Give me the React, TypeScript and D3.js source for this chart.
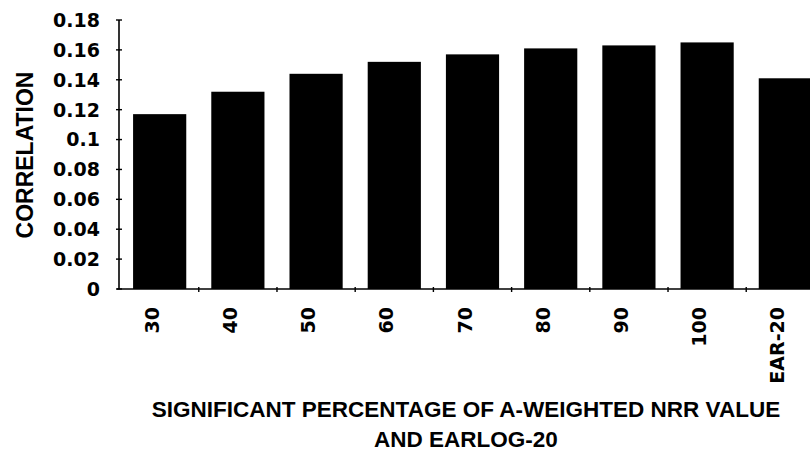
import * as d3 from "d3";

// categories along the x axis (percentage of A-weighted NRR, then EARLOG-20)
const categories = ["30", "40", "50", "60", "70", "80", "90", "100", "EAR-20"];
// correlation
const correlations = [0.117, 0.132, 0.144, 0.152, 0.157, 0.161, 0.163, 0.165, 0.141];
// y axis ticks
const yTicks = [0, 0.02, 0.04, 0.06, 0.08, 0.1, 0.12, 0.14, 0.16, 0.18];
const yTickLabels = ["0", "0.02", "0.04", "0.06", "0.08", "0.1", "0.12", "0.14", "0.16", "0.18"];
const xTitleLines = ["SIGNIFICANT PERCENTAGE OF A-WEIGHTED NRR VALUE", "AND EARLOG-20"];

const W = 810;
const H = 456;

export default function App() {
  const x = d3
    .scaleBand<string>()
    .domain(categories)
    .range([119, 826])
    .paddingInner(0.32)
    .paddingOuter(0.18);

  const y = d3.scaleLinear().domain([0, 0.18]).range([289, 20]);

  const axisX = 119;
  const base = y(0);
  const tickFont = "'DejaVu Sans', sans-serif";
  const titleFont = "'Liberation Sans', Arial, sans-serif";

  // boundaries between categories, for the small x-axis ticks
  const boundaries = categories.slice(1).map((c) => x(c)! - (x.step() - x.bandwidth()) / 2);

  return (
    <svg
      width={W}
      height={H}
      viewBox={`0 0 ${W} ${H}`}
      style={{ position: "absolute", left: 0, top: 0, background: "#fff" }}
    >
      {/* bars */}
      {categories.map((c, i) => (
        <rect
          key={c}
          x={x(c)}
          y={y(correlations[i])}
          width={x.bandwidth()}
          height={base - y(correlations[i])}
          fill="#000"
        />
      ))}

      {/* y axis */}
      <line x1={axisX} x2={axisX} y1={y(0.18)} y2={base} stroke="#000" strokeWidth={1.6} />
      {yTicks.map((t, i) => (
        <g key={t} transform={`translate(0,${y(t)})`}>
          <line x1={axisX - 3} x2={axisX + 3} stroke="#000" strokeWidth={1.4} />
          <text
            x={100}
            dy="0.36em"
            textAnchor="end"
            fontFamily={tickFont}
            fontWeight="bold"
            fontSize={19}
            fill="#000"
          >
            {yTickLabels[i]}
          </text>
        </g>
      ))}

      {/* x axis */}
      <line x1={axisX - 2} x2={W} y1={base} y2={base} stroke="#000" strokeWidth={1.6} />
      {boundaries.map((b, i) => (
        <line key={i} x1={b} x2={b} y1={base - 2} y2={base + 3} stroke="#000" strokeWidth={1.4} />
      ))}
      {categories.map((c) => (
        <text
          key={c}
          transform={`translate(${x(c)! + x.bandwidth() / 2 - 1},307) rotate(-90)`}
          textAnchor="end"
          fontFamily={tickFont}
          fontWeight="bold"
          fontSize={19}
          fill="#000"
        >
          {c}
        </text>
      ))}

      {/* axis titles */}
      <text
        transform="translate(33,155) rotate(-90)"
        textAnchor="middle"
        fontFamily={titleFont}
        fontWeight="bold"
        fontSize={23}
        fill="#000"
      >
        CORRELATION
      </text>
      {xTitleLines.map((line, i) => (
        <text
          key={line}
          x={466}
          y={417 + i * 30}
          textAnchor="middle"
          fontFamily={titleFont}
          fontWeight="bold"
          fontSize={22.5}
          fill="#000"
        >
          {line}
        </text>
      ))}
    </svg>
  );
}
